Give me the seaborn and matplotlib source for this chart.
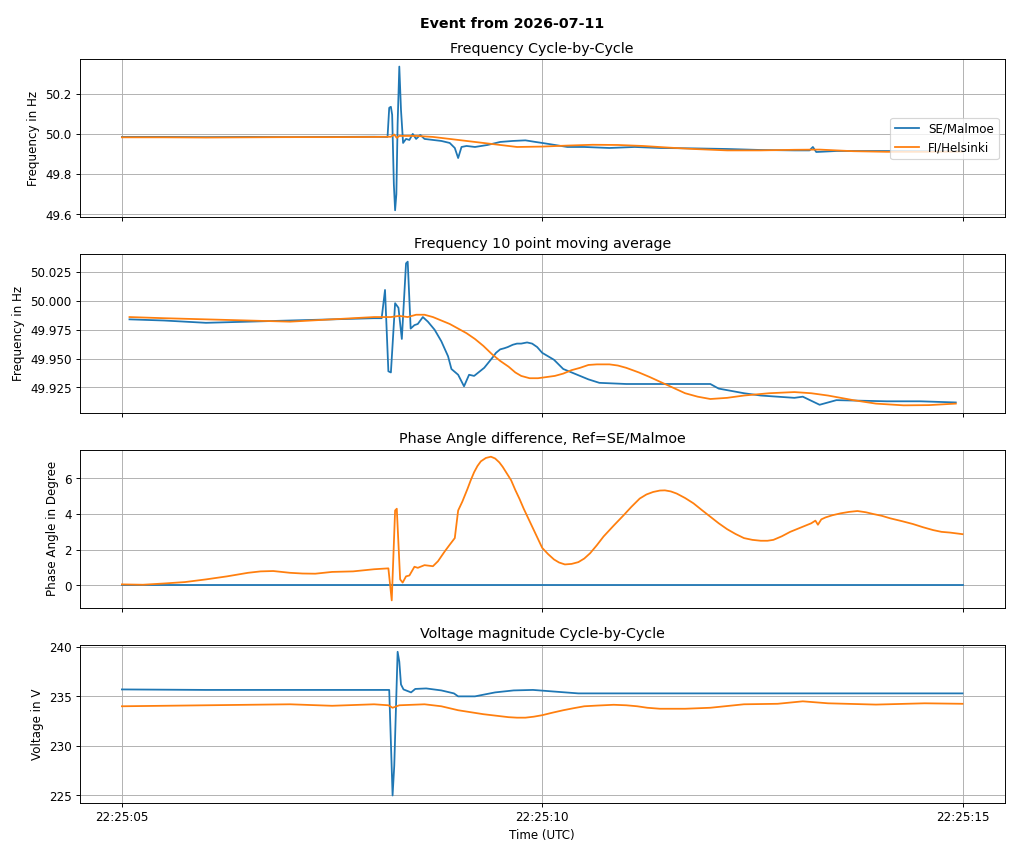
import pandas as pd
import numpy as np
import seaborn as sns
import matplotlib
matplotlib.use("Agg")
import matplotlib.pyplot as plt
import matplotlib.dates as mdates

#--> event data, seconds after 22:25:00 (UTC)
event_day = "2026-07-11"
sites = ["SE/Malmoe", "FI/Helsinki"]

# Frequency cycle-by-cycle
freq_se_t = [5.0, 5.5, 6.0, 6.5, 7.0, 7.5, 8.0, 8.16, 8.18, 8.20, 8.215, 8.235, 8.25, 8.265,
             8.28, 8.30, 8.32, 8.345, 8.38, 8.42, 8.46, 8.50, 8.55, 8.60, 8.70, 8.80, 8.90,
             8.96, 9.00, 9.04, 9.10, 9.20, 9.35, 9.50, 9.65, 9.80, 9.92, 10.0, 10.15, 10.3,
             10.5, 10.8, 11.1, 11.4, 11.8, 12.2, 12.6, 13.0, 13.18, 13.22, 13.26, 13.5, 14.0,
             14.5, 15.0]
freq_se = [49.985, 49.985, 49.984, 49.985, 49.984, 49.985, 49.986, 49.985, 50.13, 50.135,
           50.095, 49.75, 49.62, 49.70, 50.05, 50.335, 50.12, 49.955, 49.975, 49.97, 50.0,
           49.975, 49.995, 49.975, 49.97, 49.965, 49.955, 49.93, 49.88, 49.935, 49.94,
           49.935, 49.945, 49.96, 49.965, 49.968, 49.96, 49.955, 49.945, 49.935, 49.935,
           49.93, 49.935, 49.93, 49.928, 49.925, 49.92, 49.918, 49.918, 49.935, 49.91,
           49.915, 49.915, 49.914, 49.913]
freq_fi_t = [5.0, 5.5, 6.0, 6.5, 7.0, 7.5, 8.0, 8.2, 8.24, 8.27, 8.3, 8.5, 8.7, 8.9, 9.1,
             9.3, 9.5, 9.7, 10.0, 10.3, 10.6, 10.9, 11.2, 11.5, 11.8, 12.2, 12.6, 13.0, 13.3,
             13.7, 14.1, 14.5, 15.0]
freq_fi = [49.983, 49.983, 49.982, 49.983, 49.984, 49.984, 49.985, 49.986, 49.997, 49.98,
           49.99, 49.99, 49.985, 49.975, 49.965, 49.955, 49.945, 49.935, 49.937, 49.942,
           49.946, 49.945, 49.94, 49.932, 49.925, 49.918, 49.918, 49.921, 49.922, 49.914,
           49.911, 49.911, 49.912]

# Frequency 10 point moving average
ma_se_t = [5.09, 5.5, 6.0, 6.5, 7.0, 7.5, 8.0, 8.09, 8.13, 8.17, 8.20, 8.25, 8.29, 8.33,
           8.38, 8.40, 8.435, 8.48, 8.52, 8.58, 8.64, 8.72, 8.80, 8.88, 8.92, 9.00, 9.07,
           9.13, 9.19, 9.31, 9.41, 9.45, 9.50, 9.55, 9.59, 9.65, 9.70, 9.75, 9.82, 9.88,
           9.94, 10.0, 10.07, 10.14, 10.25, 10.35, 10.45, 10.55, 10.68, 11.0, 11.4, 11.8,
           12.0, 12.1, 12.4, 12.6, 13.0, 13.1, 13.3, 13.5, 14.1, 14.5, 14.92]
ma_se = [49.984, 49.983, 49.981, 49.982, 49.983, 49.984, 49.985, 49.985, 50.0095, 49.939,
         49.938, 49.998, 49.994, 49.967, 50.0325, 50.034, 49.976, 49.979, 49.980, 49.986,
         49.982, 49.975, 49.965, 49.952, 49.941, 49.936, 49.926, 49.936, 49.935, 49.942,
         49.951, 49.955, 49.958, 49.959, 49.960, 49.962, 49.963, 49.963, 49.964, 49.963,
         49.960, 49.955, 49.952, 49.949, 49.941, 49.938, 49.935, 49.932, 49.929, 49.928,
         49.928, 49.928, 49.928, 49.924, 49.920, 49.918, 49.916, 49.917, 49.910, 49.914,
         49.913, 49.913, 49.912]
ma_fi_t = [5.09, 5.5, 6.0, 6.5, 7.0, 7.5, 8.0, 8.2, 8.3, 8.4, 8.5, 8.6, 8.7, 8.8, 8.9, 9.0,
           9.1, 9.2, 9.3, 9.4, 9.5, 9.6, 9.68, 9.75, 9.85, 9.95, 10.05, 10.15, 10.25, 10.35,
           10.45, 10.55, 10.65, 10.8, 10.9, 11.0, 11.15, 11.28, 11.4, 11.55, 11.7, 11.85,
           12.0, 12.2, 12.4, 12.7, 13.0, 13.2, 13.4, 13.7, 13.97, 14.3, 14.6, 14.92]
ma_fi = [49.986, 49.985, 49.984, 49.983, 49.982, 49.984, 49.986, 49.986, 49.987, 49.986,
         49.988, 49.988, 49.986, 49.983, 49.980, 49.976, 49.972, 49.967, 49.961, 49.954,
         49.948, 49.943, 49.938, 49.935, 49.933, 49.933, 49.934, 49.935, 49.937, 49.940,
         49.942, 49.9445, 49.945, 49.945, 49.944, 49.942, 49.938, 49.934, 49.930, 49.925,
         49.920, 49.917, 49.915, 49.916, 49.918, 49.920, 49.921, 49.920, 49.918, 49.914,
         49.911, 49.9095, 49.9097, 49.911]

# Phase angle difference, reference SE/Malmoe
phase_se_t = [5.0, 15.0]
phase_se = [0.0, 0.0]
phase_fi_t = [5.0, 5.25, 5.5, 5.75, 6.0, 6.25, 6.5, 6.65, 6.8, 7.0, 7.15, 7.3, 7.5, 7.75,
              8.0, 8.17, 8.21, 8.25, 8.27, 8.31, 8.34, 8.38, 8.42, 8.48, 8.52, 8.6, 8.7,
              8.76, 8.84, 8.9, 8.96, 9.0, 9.05, 9.11, 9.15, 9.19, 9.23, 9.27, 9.33, 9.39,
              9.44, 9.49, 9.53, 9.57, 9.63, 9.68, 9.73, 9.78, 9.84, 9.9, 9.95, 10.0, 10.07,
              10.14, 10.2, 10.27, 10.35, 10.43, 10.5, 10.57, 10.65, 10.73, 10.85, 10.97,
              11.06, 11.16, 11.24, 11.32, 11.4, 11.46, 11.53, 11.6, 11.7, 11.8, 11.9, 12.0,
              12.1, 12.2, 12.3, 12.4, 12.5, 12.6, 12.68, 12.75, 12.85, 12.95, 13.08, 13.2,
              13.25, 13.28, 13.32, 13.37, 13.45, 13.55, 13.65, 13.75, 13.85, 13.94, 14.04,
              14.14, 14.28, 14.41, 14.53, 14.65, 14.75, 14.85, 15.0]
phase_fi = [0.05, 0.03, 0.1, 0.18, 0.33, 0.5, 0.7, 0.78, 0.8, 0.7, 0.66, 0.65, 0.75, 0.78,
            0.9, 0.95, -0.85, 4.2, 4.3, 0.33, 0.15, 0.5, 0.55, 1.04, 0.98, 1.13, 1.07,
            1.35, 1.9, 2.28, 2.65, 4.2, 4.7, 5.4, 5.9, 6.35, 6.7, 6.96, 7.15, 7.22, 7.12,
            6.9, 6.65, 6.35, 5.9, 5.35, 4.85, 4.3, 3.7, 3.1, 2.6, 2.1, 1.75, 1.45, 1.28,
            1.17, 1.2, 1.3, 1.5, 1.8, 2.25, 2.74, 3.35, 3.94, 4.4, 4.87, 5.1, 5.24, 5.32,
            5.33, 5.27, 5.15, 4.9, 4.6, 4.22, 3.85, 3.48, 3.15, 2.88, 2.65, 2.55, 2.5, 2.5,
            2.55, 2.75, 3.0, 3.25, 3.48, 3.63, 3.4, 3.7, 3.81, 3.93, 4.04, 4.12, 4.17, 4.1,
            4.0, 3.9, 3.76, 3.6, 3.44, 3.26, 3.1, 3.0, 2.96, 2.87]

# Voltage magnitude cycle-by-cycle
volt_se_t = [5.0, 6.0, 7.0, 8.0, 8.18, 8.22, 8.24, 8.28, 8.30, 8.32, 8.35, 8.44, 8.49,
             8.62, 8.8, 8.95, 9.0, 9.2, 9.44, 9.66, 9.89, 10.12, 10.43, 11.0, 12.0, 13.0,
             14.0, 15.0]
volt_se = [235.7, 235.65, 235.65, 235.65, 235.65, 225.0, 228.0, 239.5, 238.5, 236.2, 235.7,
           235.4, 235.75, 235.8, 235.6, 235.3, 235.0, 235.0, 235.4, 235.6, 235.65, 235.5,
           235.3, 235.3, 235.3, 235.3, 235.3, 235.3]
volt_fi_t = [5.0, 6.0, 7.0, 7.5, 8.0, 8.17, 8.22, 8.3, 8.6, 8.8, 8.9, 9.0, 9.15, 9.3, 9.45,
             9.6, 9.7, 9.8, 9.9, 10.0, 10.12, 10.25, 10.37, 10.5, 10.65, 10.85, 11.0, 11.13,
             11.25, 11.4, 11.7, 12.0, 12.4, 12.8, 13.1, 13.4, 13.97, 14.55, 15.0]
volt_fi = [234.0, 234.1, 234.2, 234.05, 234.2, 234.1, 233.85, 234.1, 234.2, 234.0, 233.8,
           233.6, 233.4, 233.2, 233.05, 232.9, 232.85, 232.85, 232.95, 233.1, 233.35, 233.6,
           233.8, 234.0, 234.07, 234.15, 234.1, 234.0, 233.85, 233.75, 233.75, 233.85,
           234.2, 234.25, 234.5, 234.3, 234.17, 234.3, 234.25]

colors = ["#1f77b4", "#ff7f0e"]
base = pd.Timestamp(f"{event_day} 22:25:00")


def to_time(secs):
    return base + pd.to_timedelta(np.array(secs), unit="s")


panels = [
    ("Frequency Cycle-by-Cycle", "Frequency in Hz", [(freq_se_t, freq_se), (freq_fi_t, freq_fi)]),
    ("Frequency 10 point moving average", "Frequency in Hz", [(ma_se_t, ma_se), (ma_fi_t, ma_fi)]),
    ("Phase Angle difference, Ref=SE/Malmoe", "Phase Angle in Degree",
     [(phase_se_t, phase_se), (phase_fi_t, phase_fi)]),
    ("Voltage magnitude Cycle-by-Cycle", "Voltage in V", [(volt_se_t, volt_se), (volt_fi_t, volt_fi)]),
]

# 12x10 inch figure, saved at 1024 px wide
fig, axes = plt.subplots(4, 1, figsize=(12, 10), dpi=1024 / 12, sharex=True)

for ax, (title, ylabel, series) in zip(axes, panels):
    for (t, v), site, c in zip(series, sites, colors):
        sns.lineplot(x=to_time(t), y=v, ax=ax, color=c, label=site, linewidth=1.5)
    ax.set_title(title)
    ax.set_ylabel(ylabel)
    ax.set_xlabel("")
    ax.grid(True)
    if ax is axes[0]:
        ax.legend(loc="center right")
    else:
        ax.get_legend().remove()

axes[-1].set_xlabel("Time (UTC)")
axes[-1].xaxis.set_major_locator(mdates.SecondLocator(bysecond=range(0, 60, 5)))
axes[-1].xaxis.set_major_formatter(mdates.DateFormatter("%H:%M:%S"))

fig.suptitle(f"Event from {event_day}", fontweight="bold")
fig.subplots_adjust(left=0.078, right=0.981, top=0.930, bottom=0.059, hspace=0.234)
fig.savefig("out.png", dpi=1024 / 12)
